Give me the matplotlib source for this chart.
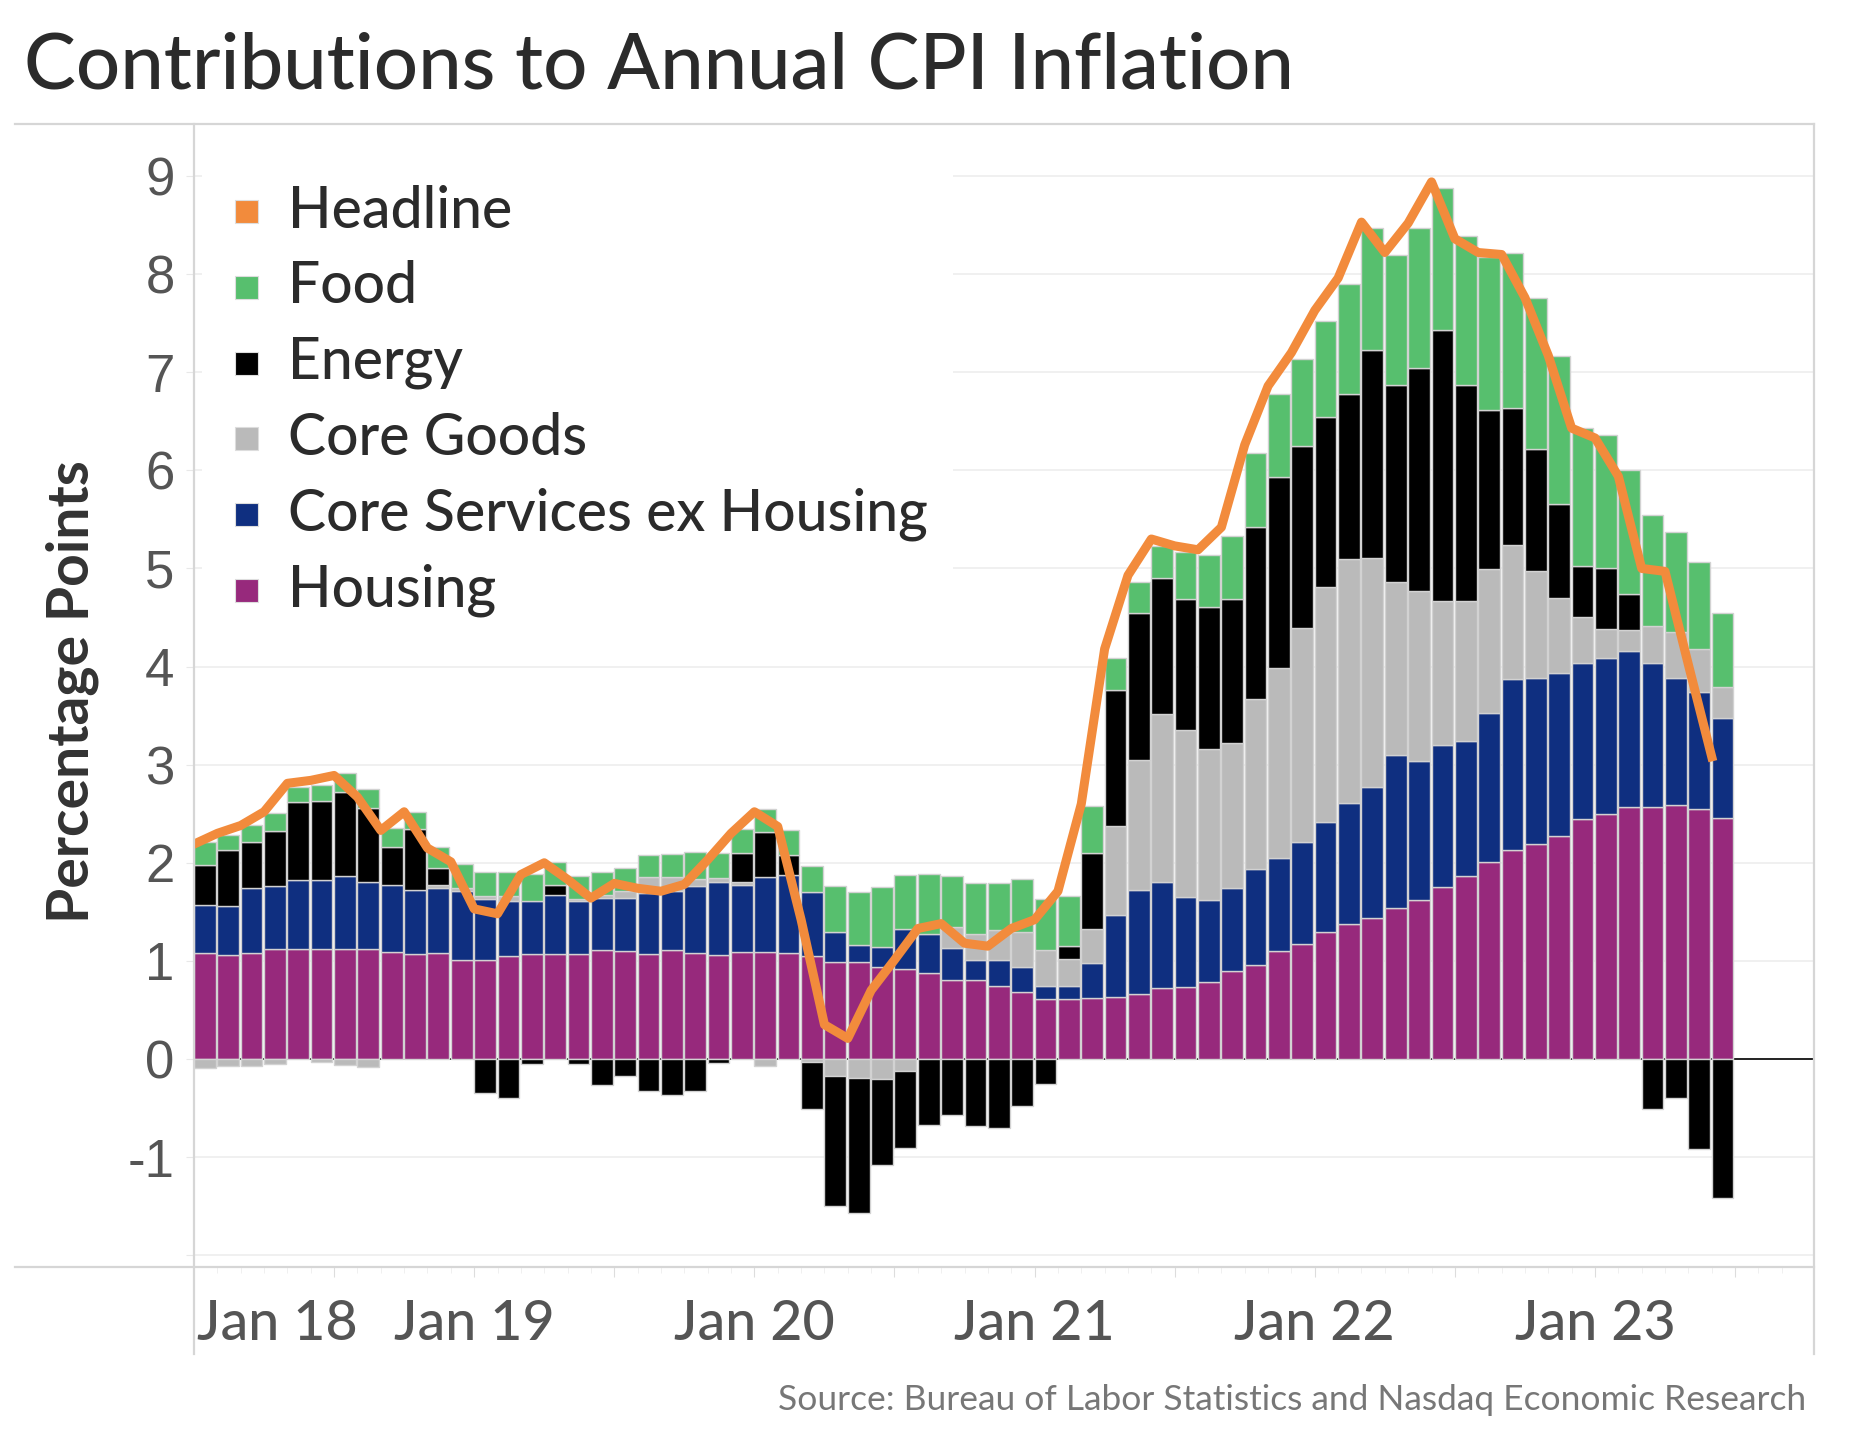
import numpy as np
import matplotlib.pyplot as plt
from matplotlib.patches import Rectangle
from matplotlib.lines import Line2D

# monthly contributions, Jan 2018 .. Jun 2023 (percentage points)
headline = [2.19, 2.30, 2.38, 2.52, 2.81, 2.84, 2.89, 2.67, 2.33, 2.52, 2.15, 2.01,
            1.53, 1.48, 1.88, 2.00, 1.83, 1.64, 1.79, 1.74, 1.71, 1.78, 2.03, 2.30,
            2.52, 2.37, 1.42, 0.35, 0.21, 0.70, 1.01, 1.33, 1.38, 1.18, 1.15, 1.33,
            1.42, 1.71, 2.60, 4.18, 4.93, 5.30, 5.23, 5.19, 5.42, 6.26, 6.86, 7.20,
            7.63, 7.96, 8.53, 8.22, 8.52, 8.94, 8.36, 8.22, 8.20, 7.76, 7.17, 6.43,
            6.33, 5.94, 5.00, 4.97, 4.02, 3.08]
housing = [1.08, 1.06, 1.08, 1.12, 1.12, 1.12, 1.12, 1.12, 1.09, 1.07, 1.08, 1.01,
           1.01, 1.05, 1.07, 1.07, 1.07, 1.11, 1.10, 1.07, 1.11, 1.08, 1.06, 1.09,
           1.09, 1.08, 1.05, 0.99, 0.99, 0.94, 0.92, 0.88, 0.81, 0.81, 0.74, 0.68,
           0.61, 0.61, 0.62, 0.63, 0.66, 0.72, 0.73, 0.78, 0.90, 0.96, 1.10, 1.17,
           1.29, 1.38, 1.44, 1.54, 1.62, 1.75, 1.87, 2.01, 2.13, 2.19, 2.27, 2.45,
           2.50, 2.57, 2.57, 2.59, 2.55, 2.46]
services = [0.49, 0.50, 0.66, 0.64, 0.70, 0.70, 0.75, 0.68, 0.68, 0.65, 0.66, 0.70,
            0.62, 0.56, 0.54, 0.60, 0.54, 0.53, 0.54, 0.62, 0.60, 0.68, 0.74, 0.68,
            0.77, 0.80, 0.65, 0.30, 0.17, 0.20, 0.41, 0.39, 0.32, 0.20, 0.27, 0.26,
            0.13, 0.13, 0.36, 0.84, 1.06, 1.08, 0.92, 0.84, 0.84, 0.98, 0.95, 1.04,
            1.13, 1.23, 1.33, 1.56, 1.42, 1.45, 1.37, 1.52, 1.74, 1.69, 1.66, 1.59,
            1.59, 1.59, 1.47, 1.29, 1.19, 1.02]
core_goods = [-0.09, -0.07, -0.07, -0.05, 0.00, -0.03, -0.06, -0.08, 0.00, 0.00, 0.03, 0.03,
              0.03, 0.05, 0.00, 0.00, 0.02, 0.03, 0.07, 0.17, 0.14, 0.07, 0.04, 0.03,
              -0.07, 0.00, -0.03, -0.17, -0.19, -0.20, -0.12, 0.00, 0.22, 0.26, 0.30, 0.35,
              0.37, 0.28, 0.34, 0.90, 1.33, 1.72, 1.70, 1.54, 1.48, 1.73, 1.94, 2.18,
              2.39, 2.49, 2.34, 1.76, 1.73, 1.47, 1.43, 1.46, 1.37, 1.09, 0.77, 0.47,
              0.29, 0.21, 0.37, 0.47, 0.44, 0.31]
energy = [0.41, 0.57, 0.47, 0.56, 0.80, 0.81, 0.85, 0.76, 0.39, 0.62, 0.18, 0.00,
          -0.35, -0.40, -0.05, 0.10, -0.05, -0.27, -0.17, -0.33, -0.37, -0.33, -0.04, 0.30,
          0.45, 0.20, -0.48, -1.33, -1.38, -0.88, -0.79, -0.67, -0.57, -0.68, -0.70, -0.48,
          -0.25, 0.13, 0.78, 1.39, 1.50, 1.38, 1.34, 1.45, 1.47, 1.75, 1.94, 1.86,
          1.73, 1.68, 2.12, 2.01, 2.27, 2.76, 2.20, 1.63, 1.40, 1.25, 0.96, 0.52,
          0.62, 0.37, -0.51, -0.40, -0.92, -1.42]
food = [0.23, 0.15, 0.18, 0.19, 0.15, 0.16, 0.19, 0.19, 0.19, 0.18, 0.21, 0.25,
        0.25, 0.25, 0.28, 0.24, 0.24, 0.24, 0.24, 0.22, 0.24, 0.28, 0.26, 0.24,
        0.24, 0.25, 0.27, 0.47, 0.54, 0.61, 0.55, 0.62, 0.52, 0.52, 0.48, 0.54,
        0.52, 0.51, 0.48, 0.33, 0.31, 0.33, 0.48, 0.53, 0.64, 0.76, 0.85, 0.88,
        0.98, 1.12, 1.24, 1.32, 1.43, 1.45, 1.52, 1.55, 1.58, 1.54, 1.51, 1.40,
        1.36, 1.26, 1.13, 1.02, 0.89, 0.76]

year_labels = ["Jan 18", "Jan 19", "Jan 20", "Jan 21", "Jan 22", "Jan 23"]
legend_names = ["Headline", "Food", "Energy", "Core Goods", "Core Services ex Housing", "Housing"]

ORANGE = "#f28b3c"
GREEN = "#57bf6e"
BLACK = "#000000"
GRAY = "#bababa"
BLUE = "#0f2f80"
PURPLE = "#97297c"

W, H = 1866, 1450
fig = plt.figure(figsize=(W / 100, H / 100), dpi=100)


def fx(px):
    return px / W


def fy(py):
    return 1 - py / H


ax = fig.add_axes([fx(194), fy(1267), fx(1814) - fx(194), fy(124) - fy(1267)])

x = np.arange(len(headline))
pos = np.zeros(len(x))
neg = np.zeros(len(x))
for vals, col in [(housing, PURPLE), (services, BLUE), (core_goods, GRAY),
                  (energy, BLACK), (food, GREEN)]:
    v = np.array(vals)
    bottom = np.where(v >= 0, pos, neg)
    keep = v != 0
    ax.bar(x[keep], v[keep], width=0.93, bottom=bottom[keep], align="edge",
           color=col, edgecolor="#d2d2d2", linewidth=1, zorder=3)
    pos = pos + np.clip(v, 0, None)
    neg = neg + np.clip(v, None, 0)

ax.axhline(0, color="black", lw=1.2, zorder=2)
ax.plot(x, headline, color=ORANGE, lw=6.5, zorder=5, solid_joinstyle="round")

ax.set_xlim(0, 69.38)
ax.set_ylim(-2.12, 9.53)
ax.set_yticks(range(-2, 10))
ax.set_yticklabels(["", "-1"] + [str(i) for i in range(10)])
ax.grid(axis="y", color="#eeeeee", lw=1.2, zorder=0)
ax.tick_params(axis="y", length=6, color="#e8e8e8", pad=8, labelsize=38, labelcolor="#555555")
for t in ax.get_yticklabels():
    t.set_fontfamily("Liberation Sans")
ax.set_xticks(np.arange(6, 69, 6))
ax.set_xticks(np.arange(1, 69), minor=True)
ax.set_xticklabels([])
ax.tick_params(axis="x", which="major", length=7, color="#dddddd")
ax.tick_params(axis="x", which="minor", length=4, color="#eeeeee")
for s in ax.spines.values():
    s.set_visible(False)
ax.set_facecolor("white")

# pane borders
for (x0, y0, x1, y1) in [(15, 124, 1814, 124), (15, 1267, 1814, 1267),
                         (194, 124, 194, 1354), (1814, 124, 1814, 1354)]:
    fig.add_artist(Line2D([fx(x0), fx(x1)], [fy(y0), fy(y1)], color="#d6d6d6", lw=1.6))

fnt = "Lato"
fig.text(fx(24), fy(67), "Contributions to Annual CPI Inflation", fontsize=56,
         family=fnt, fontweight="medium", color="#2b2b2b", va="center", ha="left")

fig.text(fx(72), fy(692), "Percentage Points", rotation=90, fontsize=41, family=fnt,
         fontweight="bold", color="#333333", va="center", ha="center")

# x labels
fig.text(fx(197), fy(1325), year_labels[0], fontsize=40, family=fnt, fontweight="medium",
         color="#555555", ha="left", va="center")
for k, lab in enumerate(year_labels[1:], start=1):
    xp = ax.transData.transform((12 * k, 0))[0]
    fig.text(xp / W, fy(1325), lab, fontsize=40, family=fnt, fontweight="medium",
             color="#555555", ha="center", va="center")

# legend with white backing
fig.add_artist(Rectangle((fx(202), fy(630)), fx(953) - fx(202), fy(150) - fy(630),
                         transform=fig.transFigure, facecolor="white", edgecolor="none", zorder=1))
leg_cols = [ORANGE, GREEN, BLACK, GRAY, BLUE, PURPLE]
for k, (name, col) in enumerate(zip(legend_names, leg_cols)):
    yc = 211 + k * 75.8
    fig.add_artist(Rectangle((fx(235), fy(yc + 12)), fx(23), 23 / H, transform=fig.transFigure,
                             facecolor=col, edgecolor="#dddddd", lw=0.8, zorder=2))
    fig.text(fx(288), fy(yc), name, fontsize=41, family=fnt, fontweight="medium",
             color="#2b2b2b", ha="left", va="center", zorder=3)

fig.text(fx(1806), fy(1400), "Source: Bureau of Labor Statistics and Nasdaq Economic Research",
         fontsize=25.5, family=fnt, color="#777777", ha="right", va="center")

fig.savefig("out.png", dpi=100, facecolor="white")
